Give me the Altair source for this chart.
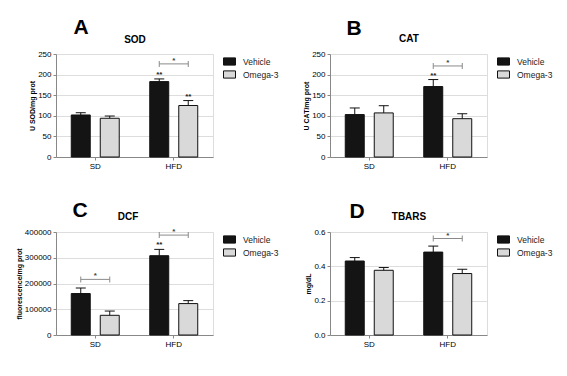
import altair as alt
import pandas as pd

groups = ["SD", "HFD"]
treatments = ["Vehicle", "Omega-3"]

panel_letters = ["A", "B", "C", "D"]
panel_names = ["SOD", "CAT", "DCF", "TBARS"]
y_titles = ["U SOD/mg prot", "U CAT/mg prot", "fluorescence/mg prot", "mg/dL"]

# bar order: SD-Vehicle, SD-Omega-3, HFD-Vehicle, HFD-Omega-3
sod_mean = [102, 94, 183, 125]
sod_err = [5.5, 5.5, 6.5, 12]
cat_mean = [103, 107, 171, 93]
cat_err = [16, 17.5, 17, 12]
dcf_mean = [161000, 76500, 308000, 122000]
dcf_err = [21500, 16500, 24500, 11500]
tbars_mean = [0.431, 0.377, 0.483, 0.358]
tbars_err = [0.020, 0.016, 0.035, 0.025]

sod_sig = ["", "", "**", "**"]
cat_sig = ["", "", "**", ""]
dcf_sig = ["", "", "**", ""]
tbars_sig = ["", "", "", ""]

sod_br_group = ["HFD"]
sod_br_y = [226]
cat_br_group = ["HFD"]
cat_br_y = [221]
dcf_br_group = ["SD", "HFD"]
dcf_br_y = [216000, 388000]
tbars_br_group = ["HFD"]
tbars_br_y = [0.562]

y_max = [250, 250, 400000, 0.6]
y_ticks = [
    [0, 50, 100, 150, 200, 250],
    [0, 50, 100, 150, 200, 250],
    [0, 100000, 200000, 300000, 400000],
    [0.0, 0.2, 0.4, 0.6],
]
y_formats = ["d", "d", "d", ".1f"]

W, H = 157, 103
FONT = "Liberation Sans"
SYMBOL = "M-1,-0.6L1,-0.6L1,0.6L-1,0.6Z"


def panel(i, mean, err, sig, br_group, br_y, letter_xy, name_xy):
    df = pd.DataFrame({
        "group": [g for g in groups for _ in treatments],
        "treatment": treatments * 2,
        "mean": mean,
        "err": err,
        "sig": sig,
    })
    df["upper"] = df["mean"] + df["err"]

    br = pd.DataFrame({"group": br_group, "y": br_y, "star": ["*"] * len(br_group)})
    br_ends = pd.DataFrame({
        "group": [g for g in br_group for _ in treatments],
        "treatment": treatments * len(br_group),
        "y": [v for v in br_y for _ in treatments],
    })
    head = pd.DataFrame({"letter": [panel_letters[i]], "name": [panel_names[i]]})

    xs = alt.Scale(domain=groups, paddingInner=0, paddingOuter=0)
    x_axis = alt.Axis(title=None, labelAngle=0, labelFontSize=8, labelPadding=2,
                      bandPosition=0.5, tickSize=3)
    xo_scale = alt.Scale(domain=treatments, paddingInner=0.345, paddingOuter=0.526)
    ys = alt.Scale(domain=[0, y_max[i]], nice=False)
    y_axis = alt.Axis(title=y_titles[i], values=y_ticks[i], format=y_formats[i],
                      titlePadding=2, titleFontSize=7, labelFontSize=8, tickSize=3,
                      labelOverlap=False)

    def X(field="group:N"):
        return alt.X(field, scale=xs, axis=x_axis)

    def XO():
        return alt.XOffset("treatment:N", scale=xo_scale)

    def Y(field):
        return alt.Y(field, scale=ys, axis=y_axis)

    color = alt.Color("treatment:N", scale=alt.Scale(
        domain=treatments, range=["#141414", "#d9d9d9"]),
        legend=alt.Legend(orient="none", legendX=W + 10, legendY=1, title=None,
                          symbolType=SYMBOL, symbolSize=144,
                          symbolStrokeColor="#111", symbolStrokeWidth=1,
                          symbolOpacity=1, labelFont=FONT, labelFontSize=8.5,
                          labelFontWeight="normal", labelColor="#222",
                          labelOffset=7, rowPadding=0, padding=0))

    base = alt.Chart(df)
    bars = base.mark_bar(stroke="#111", strokeWidth=1, opacity=1).encode(
        x=X(), xOffset=XO(), y=Y("mean:Q"), color=color)
    err_line = base.mark_rule(color="#111", strokeWidth=1).encode(
        x=X(), xOffset=XO(), y=Y("mean:Q"), y2="upper:Q")
    caps = base.mark_tick(color="#111", size=10, thickness=1,
                          orient="horizontal", opacity=1).encode(
        x=X(), xOffset=XO(), y=Y("upper:Q"))
    sig_text = base.mark_text(font=FONT, fontSize=8, fontWeight="bold",
                              color="#222", baseline="alphabetic", dy=-2).encode(
        x=X(), xOffset=XO(), y=Y("upper:Q"), text="sig:N")

    br_line = alt.Chart(br).mark_tick(color="#8a8a8a", size=29, thickness=1,
                                      orient="horizontal", opacity=1).encode(
        x=X(), y=Y("y:Q"))
    br_tick = alt.Chart(br_ends).mark_tick(color="#8a8a8a", size=6, thickness=1,
                                           orient="vertical", opacity=1).encode(
        x=X(), xOffset=XO(), y=Y("y:Q"))
    br_star = alt.Chart(br).mark_text(font=FONT, fontSize=8, fontWeight="bold",
                                      color="#444", baseline="alphabetic", dy=-1).encode(
        x=X(), y=Y("y:Q"), text="star:N")

    letter = alt.Chart(head).mark_text(font=FONT, fontSize=21, fontWeight="bold",
                                       color="#000", align="center",
                                       baseline="alphabetic").encode(
        x=alt.value(letter_xy[0]), y=alt.value(letter_xy[1]), text="letter:N")
    name = alt.Chart(head).mark_text(font=FONT, fontSize=10, fontWeight="bold",
                                     color="#000", align="center",
                                     baseline="alphabetic").encode(
        x=alt.value(name_xy[0]), y=alt.value(name_xy[1]), text="name:N")

    return alt.layer(bars, err_line, caps, sig_text, br_line, br_tick, br_star,
                     letter, name).properties(width=W, height=H)


pa = panel(0, sod_mean, sod_err, sod_sig, sod_br_group, sod_br_y, (25, -20), (79, -11))
pb = panel(1, cat_mean, cat_err, cat_sig, cat_br_group, cat_br_y, (24, -19), (79, -12))
pc = panel(2, dcf_mean, dcf_err, dcf_sig, dcf_br_group, dcf_br_y, (24, -15), (72, -12))
pd_ = panel(3, tbars_mean, tbars_err, tbars_sig, tbars_br_group, tbars_br_y, (27, -14), (79, -12))

chart = alt.concat(pa, pb, pc, pd_, columns=2,
                   spacing={"row": 75, "column": 117}, bounds="flush").resolve_scale(
    y="independent", color="independent").resolve_legend(color="independent").properties(
    padding={"left": 6, "top": 8, "right": 2, "bottom": 2}
).configure_view(stroke=None).configure_axis(
    labelFont=FONT, titleFont=FONT, labelFontWeight="bold", titleFontWeight="bold",
    labelColor="#111", titleColor="#111", domainColor="#111", tickColor="#111",
    domainWidth=1, tickWidth=1, grid=False
).configure(background="white")

chart.save("out.html", embed_options={"renderer": "svg", "actions": False})
